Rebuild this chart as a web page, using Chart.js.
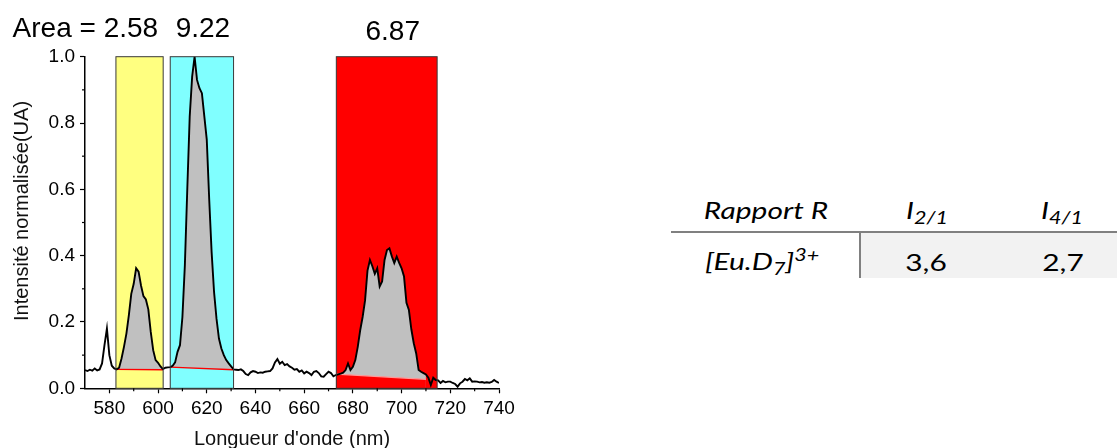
<!DOCTYPE html>
<html>
<head>
<meta charset="utf-8">
<script src="https://cdn.jsdelivr.net/npm/chart.js@4.4.1/dist/chart.umd.min.js"></script>
<style>
  body { margin: 0; width: 1117px; height: 448px; background: #fff; overflow: hidden; position: relative; }
  #wrap { position: absolute; left: 0; top: 0; width: 520px; height: 448px; }
  .cell { position: absolute; width: 200px; text-align: center; white-space: nowrap; line-height: 1; color: #000;
          font-family: Lato, "Open Sans", sans-serif; font-weight: 400; transform: scaleX(1.3); transform-origin: center; }
  .it { font-style: italic; }
  .cell sub, .cell sup { font-size: 0.72em; line-height: 0; }
  .cell sub { vertical-align: -0.3em; }
  .cell sup { vertical-align: 0.55em; }
  #hline { position: absolute; left: 671px; top: 231px; width: 446px; height: 2px; background: #808080; }
  #vline { position: absolute; left: 859px; top: 232px; width: 2px; height: 46px; background: #808080; }
  #cellbg { position: absolute; left: 861px; top: 233px; width: 256px; height: 45px; background: #f2f2f2; }
</style>
</head>
<body>
<div id="wrap"><canvas id="spectre" width="520" height="448"></canvas></div>
<div id="cellbg"></div>
<div id="hline"></div>
<div id="vline"></div>
<div id="table"></div>

<script>
// spectre d'emission (nm, intensite normalisee)
const wavelengths = [
  570, 571, 572, 573, 574, 575, 576, 577, 578, 579,
  580, 581, 582, 583, 584, 585, 586, 587, 588, 589,
  590, 591, 592, 593, 594, 595, 596, 597, 598, 599,
  600, 601, 602, 603, 604, 605, 606, 607, 608, 609,
  610, 611, 612, 613, 614, 615, 616, 617, 618, 619,
  620, 621, 622, 623, 624, 625, 626, 627, 628, 629,
  630, 631, 632, 633, 634, 635, 636, 637, 638, 639,
  640, 641, 642, 643, 644, 645, 646, 647, 648, 649,
  650, 651, 652, 653, 654, 655, 656, 657, 658, 659,
  660, 661, 662, 663, 664, 665, 666, 667, 668, 669,
  670, 671, 672, 673, 674, 675, 676, 677, 678, 679,
  680, 681, 682, 683, 684, 685, 686, 687, 688, 689,
  690, 691, 692, 693, 694, 695, 696, 697, 698, 699,
  700, 701, 702, 703, 704, 705, 706, 707, 708, 709,
  710, 711, 712, 713, 714, 715, 716, 717, 718, 719,
  720, 721, 722, 723, 724, 725, 726, 727, 728, 729,
  730, 731, 732, 733, 734, 735, 736, 737, 738, 739,
  740
];
const intensity = [
  0.055, 0.052, 0.056, 0.053, 0.060, 0.054, 0.057, 0.075, 0.130, 0.180,
  0.100, 0.068, 0.060, 0.057, 0.062, 0.090, 0.125, 0.165, 0.220, 0.285,
  0.315, 0.362, 0.352, 0.310, 0.278, 0.268, 0.238, 0.170, 0.115, 0.085,
  0.077, 0.066, 0.058, 0.062, 0.063, 0.064, 0.068, 0.078, 0.110, 0.130,
  0.215, 0.370, 0.600, 0.820, 0.940, 1.000, 0.930, 0.905, 0.890, 0.820,
  0.750, 0.570, 0.410, 0.290, 0.210, 0.150, 0.120, 0.100, 0.085, 0.075,
  0.066, 0.057, 0.056, 0.055, 0.057, 0.052, 0.043, 0.040, 0.048, 0.052,
  0.050, 0.046, 0.048, 0.047, 0.050, 0.051, 0.052, 0.060, 0.078, 0.088,
  0.074, 0.080, 0.070, 0.073, 0.066, 0.062, 0.056, 0.058, 0.050, 0.054,
  0.045, 0.050, 0.046, 0.040, 0.050, 0.052, 0.046, 0.036, 0.035, 0.043,
  0.050, 0.046, 0.036, 0.040, 0.042, 0.044, 0.047, 0.055, 0.075, 0.055,
  0.065, 0.085, 0.125, 0.175, 0.215, 0.265, 0.355, 0.387, 0.368, 0.345,
  0.362, 0.307, 0.322, 0.387, 0.417, 0.422, 0.398, 0.378, 0.397, 0.378,
  0.362, 0.337, 0.258, 0.236, 0.178, 0.136, 0.105, 0.055, 0.050, 0.046,
  0.042, 0.032, 0.010, 0.032, 0.025, 0.024, 0.016, 0.022, 0.018, 0.020,
  0.020, 0.016, 0.013, 0.005, 0.015, 0.020, 0.028, 0.024, 0.030, 0.020,
  0.021, 0.020, 0.018, 0.019, 0.017, 0.018, 0.017, 0.019, 0.025, 0.020,
  0.016
];

// zones d'integration
const bandRanges = [[582.7, 602.1], [605.0, 631.0], [673.2, 714.6]];
const bandColors = ["#ffff80", "#80ffff", "#ff0000"];
const baselineX = [[583, 602], [605, 631], [673, 710]];
const baselineY = [[0.057, 0.056], [0.064, 0.056], [0.043, 0.027]];
const baselineColors = ["#ff0000", "#ff0000", "#ff9a9a"];
const areaLabels = ["Area = 2.58", "9.22", "6.87"];

const xTicks = [580, 600, 620, 640, 660, 680, 700, 720, 740];
const xMinor = [590, 610, 630, 650, 670, 690, 710, 730];
const yTicks = [0, 0.2, 0.4, 0.6, 0.8, 1.0];
const yMinor = [0.1, 0.3, 0.5, 0.7, 0.9];
const yTitle = "Intensité normalisée(UA)";

// tableau des rapports
const tableHeader = ["Rapport R", "I<sub>2/1</sub>", "I<sub>4/1</sub>"];
const rowLabel = "[Eu.D<sub>7</sub>]<sup>3+</sup>";
const ratioValues = ["3,6", "2,7"];

const axisFont = "Liberation Sans, Arial, sans-serif";

let datasets = [];
datasets.push({
    data: wavelengths.map((w, i) => ({ x: w, y: intensity[i] })),
    borderColor: "#000",
    borderWidth: 1.9,
    pointRadius: 0,
    fill: false,
    order: 0
});

baselineX.forEach((bx, k) => {
    // aire sous le pic (grise)
    let pts = [];
    wavelengths.forEach((w, i) => {
        if (w >= bx[0] && w <= bx[1]) pts.push({ x: w, y: intensity[i] });
    });
    datasets.push({
        data: pts,
        borderWidth: 0,
        borderColor: "rgba(0,0,0,0)",
        backgroundColor: "#c0c0c0",
        pointRadius: 0,
        fill: "origin",
        order: 3
    });
    // ligne de base
    datasets.push({
        data: [{ x: bx[0], y: baselineY[k][0] }, { x: bx[1], y: baselineY[k][1] }],
        borderColor: baselineColors[k],
        borderWidth: 1.3,
        backgroundColor: bandColors[k],
        pointRadius: 0,
        fill: "origin",
        order: 2
    });
});

const bandsPlugin = {
    id: "bands",
    beforeDatasetsDraw(chart) {
        const { ctx, scales: { x, y } } = chart;
        ctx.save();
        bandRanges.forEach((b, i) => {
            let x0 = x.getPixelForValue(b[0]), x1 = x.getPixelForValue(b[1]);
            let y0 = y.getPixelForValue(1), y1 = y.getPixelForValue(0);
            ctx.fillStyle = bandColors[i];
            ctx.fillRect(x0, y0, x1 - x0, y1 - y0);
        });
        ctx.restore();
    },
    afterDatasetsDraw(chart) {
        const { ctx, scales: { x, y } } = chart;
        ctx.save();
        ctx.strokeStyle = "#3a3a3a";
        ctx.lineWidth = 1;
        bandRanges.forEach(b => {
            let x0 = x.getPixelForValue(b[0]), x1 = x.getPixelForValue(b[1]);
            let y0 = y.getPixelForValue(1), y1 = y.getPixelForValue(0);
            ctx.strokeRect(x0, y0, x1 - x0, y1 - y0);
        });
        ctx.restore();
    },
    afterDraw(chart) {
        const { ctx, scales: { x, y } } = chart;
        ctx.save();
        // petites graduations
        ctx.strokeStyle = "#000";
        ctx.lineWidth = 1.2;
        const yb = y.getPixelForValue(0), xl = x.getPixelForValue(570);
        xMinor.forEach(v => {
            let px = x.getPixelForValue(v);
            ctx.beginPath(); ctx.moveTo(px, yb); ctx.lineTo(px, yb + 3); ctx.stroke();
        });
        yMinor.forEach(v => {
            let py = y.getPixelForValue(v);
            ctx.beginPath(); ctx.moveTo(xl, py); ctx.lineTo(xl - 3, py); ctx.stroke();
        });
        // titre de l'axe y
        ctx.fillStyle = "#111";
        ctx.font = "20px " + axisFont;
        ctx.textAlign = "center";
        ctx.textBaseline = "alphabetic";
        ctx.save();
        ctx.translate(28, 211);
        ctx.rotate(-Math.PI / 2);
        ctx.fillText(yTitle, 0, 0);
        ctx.restore();
        // aires au-dessus des zones
        ctx.fillStyle = "#000";
        ctx.font = "28px " + axisFont;
        ctx.textAlign = "right";
        ctx.fillText(areaLabels[0], x.getPixelForValue(bandRanges[0][1]) - 5, 37);
        ctx.textAlign = "center";
        ctx.fillText(areaLabels[1], x.getPixelForValue((bandRanges[1][0] + bandRanges[1][1]) / 2) + 1, 37);
        ctx.fillText(areaLabels[2], x.getPixelForValue((bandRanges[2][0] + bandRanges[2][1]) / 2) + 6, 39.5);
        ctx.restore();
    }
};

new Chart(document.getElementById("spectre"), {
    type: "line",
    data: { datasets: datasets },
    plugins: [bandsPlugin],
    options: {
        responsive: false,
        animation: false,
        devicePixelRatio: 1,
        layout: { padding: { top: 56.7, right: 21, left: 0, bottom: 0 } },
        plugins: { legend: { display: false }, tooltip: { enabled: false } },
        elements: { line: { tension: 0 } },
        scales: {
            x: {
                type: "linear",
                min: 570,
                max: 740,
                afterBuildTicks: s => { s.ticks = xTicks.map(v => ({ value: v })); },
                afterFit: s => { s.height = 59.7; },
                ticks: { font: { family: axisFont, size: 19 }, color: "#000", padding: 4, maxRotation: 0, autoSkip: false },
                grid: { drawOnChartArea: false, tickLength: 5, color: "#000", tickWidth: 1.2 },
                border: { color: "#000", width: 1.5 },
                title: { display: true, text: "Longueur d'onde (nm)", font: { family: axisFont, size: 20 }, color: "#111", padding: { top: 0, bottom: -3 } }
            },
            y: {
                min: 0,
                max: 1,
                afterBuildTicks: s => { s.ticks = yTicks.map(v => ({ value: v })); },
                afterFit: s => { s.width = 85; },
                ticks: { font: { family: axisFont, size: 19 }, color: "#000", padding: 5, callback: v => v.toFixed(1) },
                grid: { drawOnChartArea: false, tickLength: 5, color: "#000", tickWidth: 1.2 },
                border: { color: "#000", width: 1.5 },
                title: { display: false }
            }
        }
    }
});

// tableau
const table = document.getElementById("table");
function addCell(html, center, top, italic) {
    let d = document.createElement("div");
    d.className = "cell" + (italic ? " it" : "");
    d.style.left = (center - 100) + "px";
    d.style.top = top + "px";
    d.style.fontSize = "23px";
    d.innerHTML = html;
    table.appendChild(d);
}
addCell(tableHeader[0], 766, 199, true);
addCell(tableHeader[1], 927, 199, true);
addCell(tableHeader[2], 1062, 199, true);
addCell(rowLabel, 762, 250, true);
addCell(ratioValues[0], 926, 251, false);
addCell(ratioValues[1], 1063, 251, false);
</script>
</body>
</html>
